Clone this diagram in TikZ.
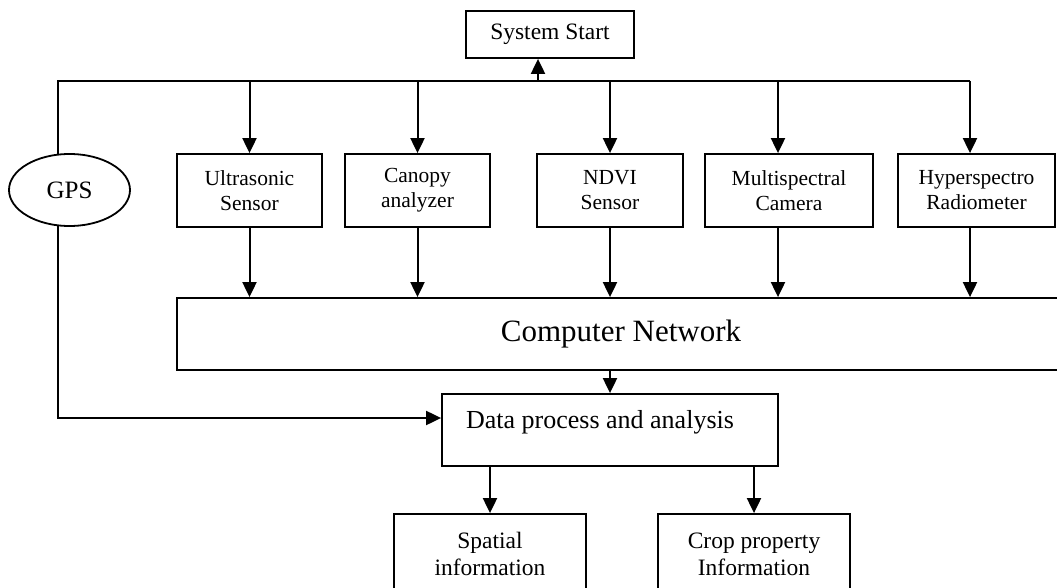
\documentclass[tikz,border=0pt]{standalone}
\usepackage{fontspec}
\setmainfont{Liberation Serif}
\usetikzlibrary{arrows.meta}
\usetikzlibrary{shapes.geometric}

\begin{document}
\begin{tikzpicture}[x=1pt,y=-1pt,line width=2pt,
  box/.style={rectangle,draw,line width=1.8pt,inner sep=0pt,align=center},
  sensorbox/.style={box,minimum height=73pt,font=\fontsize{21.5}{25}\selectfont},
  outbox/.style={box,minimum width=192pt,minimum height=80pt,font=\fontsize{23.5}{27}\selectfont},
  arr/.style={-{Triangle[length=15pt,width=14pt]}}]
\useasboundingbox (0,0) rectangle (1057,588);

\path (550, 34.5) node[box,minimum width=168pt,minimum height=47pt,font=\fontsize{23.5}{27}\selectfont] (start) {System Start};
\path (69.5, 190) node[ellipse,draw,line width=1.8pt,inner sep=0pt,minimum width=121pt,minimum height=72pt,font=\fontsize{25}{30}\selectfont] (gps) {GPS};

\path (249.5, 190.5) node[sensorbox,minimum width=145pt] (us) {Ultrasonic\\Sensor};
\path (417.5, 190.5) node[sensorbox,minimum width=145pt] (can) {Canopy\\analyzer};
\path (610, 190.5) node[sensorbox,minimum width=146pt] (ndvi) {NDVI\\Sensor};
\path (789, 190.5) node[sensorbox,minimum width=168pt] (ms) {Multispectral\\Camera};
\path (976.5, 190.5) node[sensorbox,minimum width=157pt] (hyp) {Hyperspectro\\Radiometer};

\path (621, 334) node[box,minimum width=888pt,minimum height=72pt,font=\fontsize{31}{36}\selectfont] (cn) {Computer Network};
\path (610, 430) node[box,minimum width=336pt,minimum height=72pt,font=\fontsize{26}{30}\selectfont] (data) {Data process and analysis\rule[-22pt]{0pt}{0pt}\hspace*{20pt}};

\path (490, 554) node[outbox] (spat) {Spatial\\information};
\path (754, 554) node[outbox] (crop) {Crop property\\Information};

% bus from GPS to the sensors
\coordinate (busE) at (970, 81);
\draw (gps.108) |- (busE);
\draw[arr] ([xshift=-12pt]start.south |- busE) -- ([xshift=-12pt]start.south);
\draw[arr] (us.north |- busE) -- (us.north);
\draw[arr] (can.north |- busE) -- (can.north);
\draw[arr] (ndvi.north |- busE) -- (ndvi.north);
\draw[arr] ([xshift=-11pt]ms.north |- busE) -- ([xshift=-11pt]ms.north);
\draw[arr] (busE) -- (busE |- hyp.north);

% sensors into the network
\draw[arr] (us.south) -- (us.south |- cn.north);
\draw[arr] (can.south) -- (can.south |- cn.north);
\draw[arr] (ndvi.south) -- (ndvi.south |- cn.north);
\draw[arr] ([xshift=-11pt]ms.south) -- ([xshift=-11pt]ms.south |- cn.north);
\draw[arr] (busE |- hyp.south) -- (busE |- cn.north);

\draw[arr] (cn.south -| data.north) -- (data.north);
\draw[arr] (gps.252) |- ([yshift=12pt]data.west);

\draw[arr] (spat.north |- data.south) -- (spat.north);
\draw[arr] (crop.north |- data.south) -- (crop.north);
\end{tikzpicture}
\end{document}
